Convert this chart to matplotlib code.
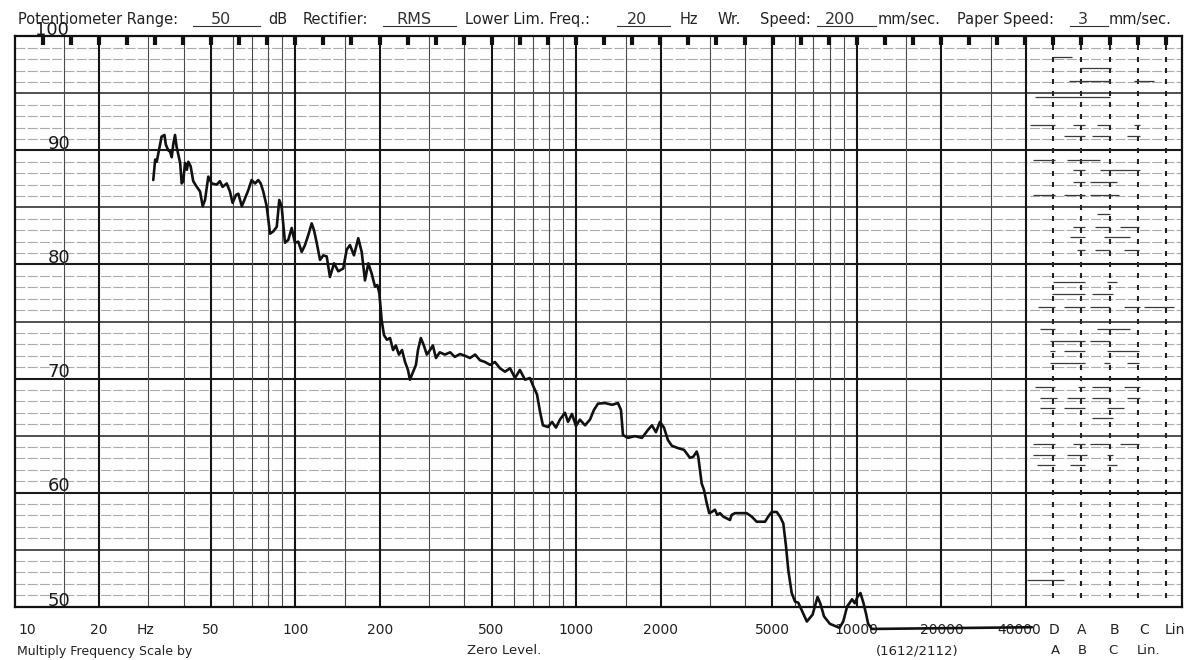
import matplotlib.pyplot as plt
from matplotlib.lines import Line2D
from matplotlib.ticker import NullLocator

# pen trace of the recorder: frequency (Hz) and level (dB)
freq_hz = [
    31.2, 31.7, 32.1, 33.0, 33.4, 34.2, 34.6, 35.3, 35.8, 36.3,
    36.8, 37.3, 37.8, 38.9, 39.4, 39.9, 40.5, 41.1, 41.6, 42.4,
    43.3, 44.6, 45.8, 46.8, 47.7, 49.0, 50.4, 52.5, 53.9, 55.1,
    57.0, 58.5, 59.8, 61.5, 62.7, 64.5, 66.2, 68.0, 69.9, 71.9,
    73.8, 75.3, 76.9, 79.1, 81.3, 83.5, 85.9, 87.7, 89.4, 91.9,
    94.4, 97.1, 99.7, 102.5, 105.4, 108.3, 111.3, 114.4, 116.6, 119.2,
    122.5, 125.8, 129.4, 132.9, 137.4, 142.3, 148.2, 152.4, 156.6, 161.8,
    167.6, 172.4, 177.1, 182.0, 187.1, 192.3, 195.9, 199.2, 203.1,
    207, 212, 217.5, 223, 228, 234, 240, 246, 252, 256,
    263, 269, 273.5, 280, 287, 294, 302, 309, 317, 327,
    341, 356, 370, 386, 402, 419, 437, 455, 474, 494,
    514, 536, 558, 582, 606, 631, 658, 685, 702, 726,
    744, 762, 794, 821, 848, 876, 913, 936, 967, 999,
    1032, 1076, 1121, 1158, 1197, 1268, 1343, 1410, 1445, 1469,
    1530, 1622, 1717, 1804, 1863, 1925, 1990, 2056, 2125, 2195,
    2307, 2423, 2545, 2615, 2689, 2724, 2801, 2854, 2918, 2981,
    3040, 3123, 3182, 3254, 3343, 3438, 3533, 3582, 3681, 4050,
    4221, 4397, 4708, 4836, 4972, 5182, 5325, 5471, 5593, 5700,
    5861, 6022, 6187, 6361, 6637, 6954, 7244, 7406, 7641, 8013,
    8670, 8944, 9228, 9614, 9829, 10050, 10300, 10564, 10802, 10969,
    11317, 42000,
]
level_db = [
    87.4, 89.2, 89.0, 90.5, 91.2, 91.35, 90.5, 90.0, 89.9, 89.4,
    90.6, 91.35, 90.3, 88.9, 87.1, 87.3, 88.9, 88.3, 89.0, 88.6,
    87.3, 86.8, 86.4, 85.1, 85.65, 87.7, 87.1, 87.0, 87.3, 86.8,
    87.1, 86.4, 85.4, 86.1, 86.2, 85.1, 85.8, 86.5, 87.4, 87.1,
    87.4, 87.1, 86.4, 85.1, 82.7, 82.9, 83.3, 85.65, 85.1, 81.9,
    82.15, 83.2, 81.9, 82.0, 81.1, 81.7, 82.6, 83.6, 83.0, 81.9,
    80.4, 80.8, 80.7, 78.9, 80.1, 79.4, 79.65, 81.3, 81.7, 80.8,
    82.3, 81.1, 78.6, 80.1, 79.2, 78.05, 78.2, 77.5, 75.1,
    73.8, 73.4, 73.55, 72.5, 72.9, 72.1, 72.5, 71.45, 70.75, 69.9,
    70.6, 71.2, 72.5, 73.55, 72.9, 72.1, 72.5, 72.9, 71.8, 72.3,
    72.1, 72.3, 71.9, 72.15, 72.0, 71.8, 72.1, 71.6, 71.45, 71.2,
    71.45, 70.9, 70.6, 70.9, 70.05, 70.75, 69.9, 70.05, 69.4, 68.6,
    67.1, 65.9, 65.75, 66.2, 65.7, 66.4, 67.0, 66.2, 66.9, 65.85,
    66.4, 65.9, 66.4, 67.25, 67.8, 67.85, 67.7, 67.85, 67.25, 65.05,
    64.8, 64.95, 64.8, 65.5, 65.9, 65.3, 66.2, 65.7, 64.6, 64.1,
    63.9, 63.75, 63.05, 63.15, 63.6, 63.15, 60.8, 60.25, 59.1, 58.2,
    58.3, 58.5, 58.05, 58.2, 57.9, 57.75, 57.6, 58.05, 58.2, 58.2,
    57.9, 57.45, 57.45, 57.9, 58.3, 58.3, 57.9, 57.3, 55.3, 53.2,
    51.2, 50.45, 50.35, 49.7, 48.7, 49.3, 50.85, 50.3, 49.15, 48.5,
    48.15, 48.7, 50.0, 50.65, 50.3, 50.85, 51.2, 50.3, 49.3, 48.5,
    48.05, 48.2,
]

# short pen marks in the weighting block: (level dB, from column, to column)
# columns: 0 = D, 1 = A, 2 = B, 3 = C, 4 = Lin
cal_marks = [
    (98.2, 0.0, 0.65), (97.2, 0.95, 2.05), (96.1, 0.54, 2.02), (96.1, 2.86, 3.57),
    (94.7, -0.65, 2.02),
    (92.2, -0.83, 0.06), (92.2, 0.71, 1.13), (92.2, 1.55, 2.02), (92.2, 2.86, 3.1),
    (91.25, 0.36, 1.13), (91.25, 1.37, 2.02), (91.25, 2.62, 3.1),
    (89.2, -0.71, 0.06), (89.2, 0.48, 1.67),
    (88.3, 0.71, 1.13), (88.3, 1.67, 3.1),
    (87.2, 0.71, 1.13), (87.2, 1.31, 2.26),
    (86.1, -0.71, 0.06), (86.1, 0.36, 1.13), (86.1, 1.31, 2.32),
    (84.4, 1.55, 2.02),
    (83.3, 0.71, 1.13), (83.3, 1.49, 2.02), (83.3, 2.38, 3.04),
    (82.4, 0.6, 1.13), (82.4, 1.79, 2.74),
    (81.3, 0.83, 1.13), (81.3, 1.49, 2.02), (81.3, 2.5, 3.04),
    (78.5, 0.0, 1.13), (78.5, 1.9, 2.26),
    (77.4, -0.06, 1.13), (77.4, 1.37, 2.14),
    (76.3, -0.54, 0.06), (76.3, 0.36, 1.13), (76.3, 1.31, 2.02), (76.3, 2.5, 3.1), (76.3, 3.21, 4.29),
    (74.3, -0.48, 0.06), (74.3, 1.55, 2.74),
    (73.3, -0.12, 1.13), (73.3, 1.31, 2.02),
    (72.4, -0.12, 0.06), (72.4, 0.36, 1.13), (72.4, 1.9, 3.04),
    (71.4, -0.12, 1.13), (71.4, 1.79, 2.02), (71.4, 2.62, 3.04),
    (69.3, -0.65, 0.06), (69.3, 0.89, 1.13), (69.3, 1.37, 2.02), (69.3, 2.5, 3.1),
    (68.3, -0.48, 0.12), (68.3, 0.48, 1.13), (68.3, 1.37, 2.02), (68.3, 2.62, 3.1),
    (67.4, -0.48, 0.06), (67.4, 0.36, 1.13), (67.4, 1.9, 2.5),
    (66.5, 1.37, 2.14),
    (64.3, -0.71, 0.06), (64.3, 0.71, 1.13), (64.3, 1.31, 2.02), (64.3, 2.38, 3.04),
    (63.3, -0.71, 0.06), (63.3, 0.48, 1.19), (63.3, 1.9, 2.14),
    (62.4, -0.6, 0.06), (62.4, 0.6, 1.13), (62.4, 1.9, 2.26),
    (52.3, -0.95, 0.36),
]

grid_major_hz = [20, 50, 100, 200, 500, 1000, 2000, 5000, 10000, 20000, 40000]
grid_minor_hz = [15, 30, 40, 60, 70, 80, 90, 150, 300, 400, 600, 700, 800, 900,
                 1500, 3000, 4000, 6000, 7000, 8000, 9000, 15000, 30000]
freq_tick_hz = [20, 50, 100, 200, 500, 1000, 2000, 5000, 10000, 20000, 40000]
freq_tick_labels = ["20", "50", "100", "200", "500", "1000", "2000", "5000",
                    "10000", "20000", "40000"]
level_ticks = [100, 90, 80, 70, 60, 50]

W, H = 1198, 660
fig = plt.figure(figsize=(W / 100, H / 100), dpi=100)
fig.patch.set_facecolor("white")


def fx(x):
    return x / W


def fy(y):
    return 1 - y / H


ax = fig.add_axes([fx(14.5), fy(606.7), (1182 - 14.5) / W, (606.7 - 36.3) / H])
ax.set_xscale("log")
ax.set_xlim(10, 10 ** 5.158)
ax.set_ylim(50, 100)
for axis in (ax.xaxis, ax.yaxis):
    axis.set_major_locator(NullLocator())
    axis.set_minor_locator(NullLocator())
for sp in ax.spines.values():
    sp.set_linewidth(1.6)
    sp.set_color("#111111")

# chart paper ruling
for lv in range(51, 100):
    if lv % 10 == 0:
        ax.axhline(lv, color="#1a1a1a", lw=1.5, zorder=1)
    elif lv % 5 == 0:
        ax.axhline(lv, color="#333333", lw=1.2, zorder=1)
    else:
        ax.axhline(lv, color="#ababab", lw=0.8, ls=(0, (9, 2)), zorder=0.5)
for f in grid_minor_hz:
    ax.axvline(f, color="#4a4a4a", lw=0.8, zorder=1)
for f in grid_major_hz:
    ax.axvline(f, color="#151515", lw=1.5, zorder=1)

# timing marks hanging from the top edge
mark_hz = [10 ** (1 + k / 10) for k in range(1, 42)]
ax.vlines(mark_hz, 99.2, 100, colors="#111111", lw=3, zorder=2)

# weighting network columns D, A, B, C, Lin
col_hz = [10 ** (4.7 + 0.1 * c) for c in range(5)]
lv_rows = list(range(51, 100))
for f in col_hz:
    ax.vlines([f] * len(lv_rows), [v - 0.22 for v in lv_rows],
              [v + 0.22 for v in lv_rows], colors="#222222", lw=1.5, zorder=2)
for lv, c0, c1 in cal_marks:
    ax.hlines(lv, 10 ** (4.7 + 0.1 * c0), 10 ** (4.7 + 0.1 * c1),
              colors="#3a3a3a", lw=0.9, zorder=2)

# recorded response
ax.plot(freq_hz, level_db, color="#111111", lw=1.9, clip_on=False, zorder=5,
        solid_joinstyle="round", solid_capstyle="round")

# level labels on the left
for lv in level_ticks:
    x = 13.6 if lv == 100 else 14.4
    ax.text(x, lv + 0.1, str(lv), ha="center", va="baseline", fontsize=13,
            color="#1a1a1a", clip_on=False, zorder=3)

# frequency labels under the chart
row1 = 47.95
ax.text(10.3, row1, "10", ha="left", va="center", fontsize=10, color="#222222", zorder=3)
ax.text(29.3, row1, "Hz", ha="center", va="center", fontsize=10, color="#222222", zorder=3)
for f, lab in zip(freq_tick_hz, freq_tick_labels):
    shift = -5 if f == 40000 else 0
    ax.annotate(lab, (f, row1), xytext=(shift, 0), textcoords="offset points",
                ha="center", va="center", fontsize=10, color="#222222",
                annotation_clip=False, zorder=3)

for x, lab in [(1054, "D"), (1082, "A"), (1114, "B"), (1144, "C"), (1175, "Lin")]:
    fig.text(fx(x), fy(630), lab, ha="center", va="center", fontsize=10, color="#222222")
for x, lab in [(1055, "A"), (1082, "B"), (1113, "C"), (1149, "Lin.")]:
    fig.text(fx(x), fy(651), lab, ha="center", va="center", fontsize=9.5, color="#222222")
fig.text(fx(17), fy(651), "Multiply Frequency Scale by", ha="left", va="center",
         fontsize=9, color="#222222")
fig.text(fx(467), fy(651), "Zero Level.", ha="left", va="center",
         fontsize=9.5, color="#222222")
fig.text(fx(917), fy(651), "(1612/2112)", ha="center", va="center",
         fontsize=9.5, color="#222222")

# header line of the recording form
base = fy(24)
for x, lab in [(18, "Potentiometer Range:"), (268, "dB"), (303, "Rectifier:"),
               (465, "Lower Lim. Freq.:"), (680, "Hz"), (718, "Wr."),
               (760, "Speed:"), (878, "mm/sec."), (957, "Paper Speed:"),
               (1109, "mm/sec.")]:
    fig.text(fx(x), base, lab, ha="left", va="baseline", fontsize=10.5, color="#222222")

for x0, x1, val in [(193, 260, "50"), (383, 456, "RMS"), (617, 670, "20"),
                    (817, 876, "200"), (1070, 1108, "3")]:
    fig.add_artist(Line2D([fx(x0), fx(x1)], [fy(25.5), fy(25.5)],
                          lw=0.8, color="#333333"))
    fig.text(fx((x0 + x1) / 2 - 6), fy(24.5), val, ha="center", va="baseline",
             fontsize=11.5, color="#333333")

fig.savefig("out.png", dpi=100, facecolor="white")
